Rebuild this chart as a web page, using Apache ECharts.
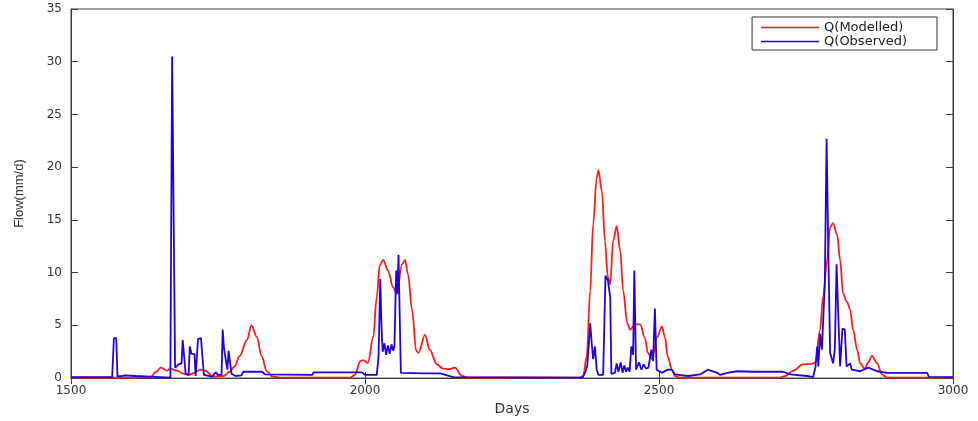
<!DOCTYPE html>
<html>
<head>
<meta charset="utf-8">
<title>Q modelled vs observed</title>
<script src="https://cdn.jsdelivr.net/npm/echarts@6/dist/echarts.min.js"></script>
<style>
  html, body { margin: 0; padding: 0; background: #fff; }
  #flow-chart { width: 978px; height: 421px; }
</style>
</head>
<body>
<div id="flow-chart"></div>
<script>
// 读图估计的数据：天数 / 流量 (mm/d)
const xTicks = [1500, 2000, 2500, 3000];
const yTicks = [0, 5, 10, 15, 20, 25, 30, 35];

const modelledDays = [
  1500, 1600, 1635, 1645, 1653, 1663, 1669, 1680, 1692, 1700, 1710, 1720, 1728, 1742, 1760, 1770,
  1778, 1787, 1799, 1807, 1816, 1824, 1833, 1842, 1860, 1975, 1983, 1992, 1997, 2005, 2014, 2020,
  2025, 2031, 2039, 2048, 2054, 2063, 2068, 2073, 2080, 2087, 2091, 2102, 2110, 2122, 2133, 2143,
  2153, 2165, 2175, 2365, 2371, 2377, 2383, 2388, 2394, 2397, 2403, 2408, 2413, 2417, 2422, 2428,
  2434, 2439, 2446, 2451, 2459, 2468, 2476, 2481, 2488, 2497, 2505, 2510, 2515, 2522, 2527, 2535,
  2705, 2715, 2728, 2745, 2760, 2766, 2774, 2779, 2786, 2791, 2796, 2803, 2808, 2813, 2820, 2825,
  2830, 2837, 2842, 2850, 2856, 2862, 2871, 2879, 2888, 3000
];
const modelledFlow = [
  0.05, 0.05, 0.1, 0.6, 1.0, 0.7, 0.9, 0.7, 0.4, 0.3, 0.5, 0.8, 0.7, 0.15, 0.2, 0.6,
  1.1, 2.1, 3.6, 5.0, 3.9, 2.1, 0.65, 0.15, 0.05, 0.05, 0.3, 1.6, 1.7, 1.45, 3.9, 7.7,
  10.7, 11.2, 10.2, 8.6, 8.0, 10.8, 11.2, 9.9, 6.5, 2.6, 2.4, 4.1, 2.7, 1.3, 0.9, 0.85,
  1.0, 0.2, 0.05, 0.05, 0.2, 2.0, 8.3, 14.6, 19.0, 19.7, 17.7, 13.0, 9.6, 8.9, 13.0, 14.4,
  12.1, 8.3, 5.2, 4.6, 5.1, 5.1, 3.8, 2.4, 1.8, 3.9, 4.9, 3.9, 2.0, 0.8, 0.2, 0.05,
  0.05, 0.2, 0.7, 1.3, 1.35, 1.5, 4.6, 7.7, 11.2, 14.3, 14.7, 13.6, 11.2, 8.0, 7.2, 6.5,
  4.6, 2.7, 1.4, 0.9, 1.5, 2.1, 1.4, 0.35, 0.05, 0.05
];

const observedDays = [
  1500, 1570, 1573, 1577, 1579, 1588, 1592, 1610, 1613, 1669, 1672, 1675, 1677, 1683, 1688, 1690,
  1693, 1695, 1700, 1702, 1705, 1710, 1712, 1716, 1719, 1721, 1724, 1726, 1740, 1746, 1750, 1756,
  1758, 1760, 1763, 1766, 1768, 1771, 1773, 1780, 1790, 1793, 1825, 1830, 1910, 1913, 1995, 2000,
  2020, 2023, 2026, 2028, 2030, 2033, 2036, 2039, 2042, 2045, 2048, 2050, 2052, 2053, 2055, 2057,
  2059, 2061, 2100, 2128, 2150, 2370, 2375, 2378, 2381, 2383, 2386, 2388, 2391, 2394, 2397, 2405,
  2407, 2409, 2413, 2417, 2419, 2425, 2428, 2431, 2435, 2438, 2441, 2444, 2447, 2450, 2453, 2456,
  2458, 2461, 2466, 2470, 2474, 2478, 2482, 2487, 2490, 2493, 2496, 2505, 2515, 2522, 2527, 2550,
  2570, 2583, 2599, 2604, 2616, 2633, 2660, 2711, 2723, 2752, 2762, 2766, 2769, 2771, 2774, 2777,
  2782, 2785, 2788, 2791, 2796, 2799, 2802, 2805, 2808, 2812, 2816, 2819, 2825, 2828, 2842, 2856,
  2871, 2888, 2956, 2959, 3000
];
const observedFlow = [
  0.1, 0.1, 3.8, 3.8, 0.15, 0.2, 0.25, 0.2, 0.05, 0.05, 30.5, 30.5, 1.0, 1.3, 1.4, 3.6,
  3.6, 0.4, 0.3, 3.0, 2.3, 2.3, 0.2, 3.7, 3.6, 3.8, 3.8, 0.3, 0.15, 0.55, 0.3, 0.3,
  4.6, 2.9, 2.8, 0.8, 2.6, 2.5, 0.4, 0.2, 0.25, 0.6, 0.6, 0.35, 0.3, 0.55, 0.55, 0.3,
  0.3, 2.0, 9.4, 5.0, 2.5, 3.3, 2.2, 3.1, 2.3, 3.2, 2.6, 3.0, 2.9, 10.2, 8.0, 11.7,
  6.0, 0.5, 0.45, 0.45, 0.1, 0.05, 0.6, 1.2, 3.5, 5.2, 3.0, 1.8, 3.0, 0.8, 0.3, 0.3,
  5.0, 9.7, 9.3, 7.7, 0.4, 0.5, 1.4, 0.6, 1.5, 0.5, 1.2, 0.6, 1.0, 0.6, 3.0, 2.2,
  10.2, 0.8, 1.5, 0.8, 1.3, 0.9, 1.0, 2.7, 1.6, 6.6, 0.8, 0.5, 0.8, 0.8, 0.35, 0.2,
  0.35, 0.8, 0.5, 0.3, 0.5, 0.65, 0.6, 0.6, 0.35, 0.2, 0.1, 1.0, 3.0, 1.1, 4.2, 2.7,
  8.9, 22.7, 12.0, 2.4, 1.4, 2.7, 10.8, 5.8, 1.1, 4.7, 4.6, 1.1, 1.4, 0.8, 0.65, 1.0,
  0.65, 0.5, 0.5, 0.12, 0.1
];

const pair = (xs, ys) => xs.map((x, i) => [x, ys[i]]);

const chart = echarts.init(document.getElementById('flow-chart'));

const axisColor = '#3c3c3c';
const tickFont = { fontFamily: 'DejaVu Sans', fontSize: 12, color: '#333' };

// 上边和右边的框线只画刻度，不画标签
const option = {
  backgroundColor: '#fff',
  animation: false,
  grid: { left: 71, right: 25, top: 9, bottom: 39, show: true, borderColor: axisColor, borderWidth: 1 },
  legend: {
    orient: 'vertical',
    right: 41,
    top: 17,
    data: ['Q(Modelled)', 'Q(Observed)'],
    icon: 'rect',
    itemWidth: 58,
    itemHeight: 1.5,
    itemGap: 1,
    padding: [4, 30, 2, 9],
    borderColor: '#333',
    borderWidth: 1,
    backgroundColor: '#fff',
    textStyle: { fontFamily: 'DejaVu Sans', fontSize: 13, color: '#222', lineHeight: 12 }
  },
  xAxis: [
    {
      type: 'value',
      min: xTicks[0],
      max: xTicks[xTicks.length - 1],
      interval: 500,
      name: 'Days',
      nameLocation: 'middle',
      nameGap: 22,
      nameTextStyle: { fontFamily: 'DejaVu Sans', fontSize: 14, color: '#333' },
      axisLine: { lineStyle: { color: axisColor, width: 1 } },
      axisTick: { inside: true, length: 6, lineStyle: { color: axisColor } },
      axisLabel: Object.assign({ margin: 7, formatter: v => String(v) }, tickFont),
      splitLine: { show: false }
    },
    {
      type: 'value',
      position: 'top',
      min: xTicks[0],
      max: xTicks[xTicks.length - 1],
      interval: 500,
      axisLine: { lineStyle: { color: axisColor, width: 1 } },
      axisTick: { inside: true, length: 6, lineStyle: { color: axisColor } },
      axisLabel: { show: false },
      splitLine: { show: false }
    }
  ],
  yAxis: [
    {
      type: 'value',
      min: yTicks[0],
      max: yTicks[yTicks.length - 1],
      interval: 5,
      name: 'Flow(mm/d)',
      nameLocation: 'middle',
      nameGap: 45,
      nameTextStyle: { fontFamily: 'Liberation Sans', fontSize: 13, color: '#333' },
      axisLine: { show: true, lineStyle: { color: axisColor, width: 1 } },
      axisTick: { show: true, inside: true, length: 7, lineStyle: { color: axisColor } },
      axisLabel: Object.assign({ margin: 9 }, tickFont),
      splitLine: { show: false }
    },
    {
      type: 'value',
      position: 'right',
      min: yTicks[0],
      max: yTicks[yTicks.length - 1],
      interval: 5,
      axisLine: { show: true, lineStyle: { color: axisColor, width: 1 } },
      axisTick: { show: true, inside: true, length: 7, lineStyle: { color: axisColor } },
      axisLabel: { show: false },
      splitLine: { show: false }
    }
  ],
  series: [
    {
      name: 'Q(Modelled)',
      type: 'line',
      data: pair(modelledDays, modelledFlow),
      showSymbol: false,
      smooth: 0.35,
      smoothMonotone: 'x',
      itemStyle: { color: '#ff1a1a' },
      lineStyle: { color: '#ff1a1a', width: 1.8 }
    },
    {
      name: 'Q(Observed)',
      type: 'line',
      data: pair(observedDays, observedFlow),
      showSymbol: false,
      itemStyle: { color: '#2400e0' },
      lineStyle: { color: '#2400e0', width: 1.8 }
    }
  ]
};

chart.setOption(option);
</script>
</body>
</html>
